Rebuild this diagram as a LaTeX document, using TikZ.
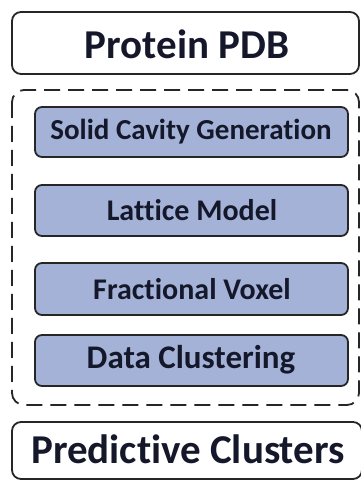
\documentclass[tikz,border=0pt]{standalone}
\usepackage{fontspec}
\setmainfont[Ligatures=NoCommon]{Carlito}
\definecolor{boxblue}{HTML}{A3B2D6}
\definecolor{txt}{HTML}{15182A}
\begin{document}
\begin{tikzpicture}[x=1pt,y=1pt,
  outerbox/.style={draw=black!85, line width=1.8pt, rounded corners=9pt, fill=white},
  innerbox/.style={draw=black!85, fill=boxblue, line width=1.8pt, rounded corners=7pt},
  grp/.style={draw=black!85, line width=1.8pt, rounded corners=12pt, dash pattern=on 16pt off 8pt},
  bigtext/.style={font=\bfseries\fontsize{41}{43}\selectfont, text=txt, inner sep=0pt},
  steptext/.style={font=\bfseries\fontsize{30}{32}\selectfont, text=txt, inner sep=0pt}]
\useasboundingbox (0,0) rectangle (360,480);
% top box
\draw[outerbox] (12,468) rectangle (359,406);
\node[bigtext] (top) at (187,436) {Protein PDB};
% dashed group
\draw[grp] (12,390) rectangle (359,75);
% inner boxes
\draw[innerbox] (35,373) rectangle (348,323);
\node[steptext, font=\bfseries\fontsize{29}{31}\selectfont] (s1) at (191,348) {Solid Cavity Generation};
\draw[innerbox] (35,295) rectangle (348,244);
\node[steptext] (s2) at (192,270) {Lattice Model};
\draw[innerbox] (35,217) rectangle (348,165);
\node[steptext] (s3) at (192,191) {Fractional Voxel};
\draw[innerbox] (35,145) rectangle (348,94);
\node[steptext, font=\bfseries\fontsize{33}{35}\selectfont] (s4) at (191,120) {Data Clustering};
% bottom box
\draw[outerbox] (12,58) rectangle (362,1);
\node[bigtext] (bot) at (188,31) {Predictive Clusters};
\end{tikzpicture}
\end{document}
